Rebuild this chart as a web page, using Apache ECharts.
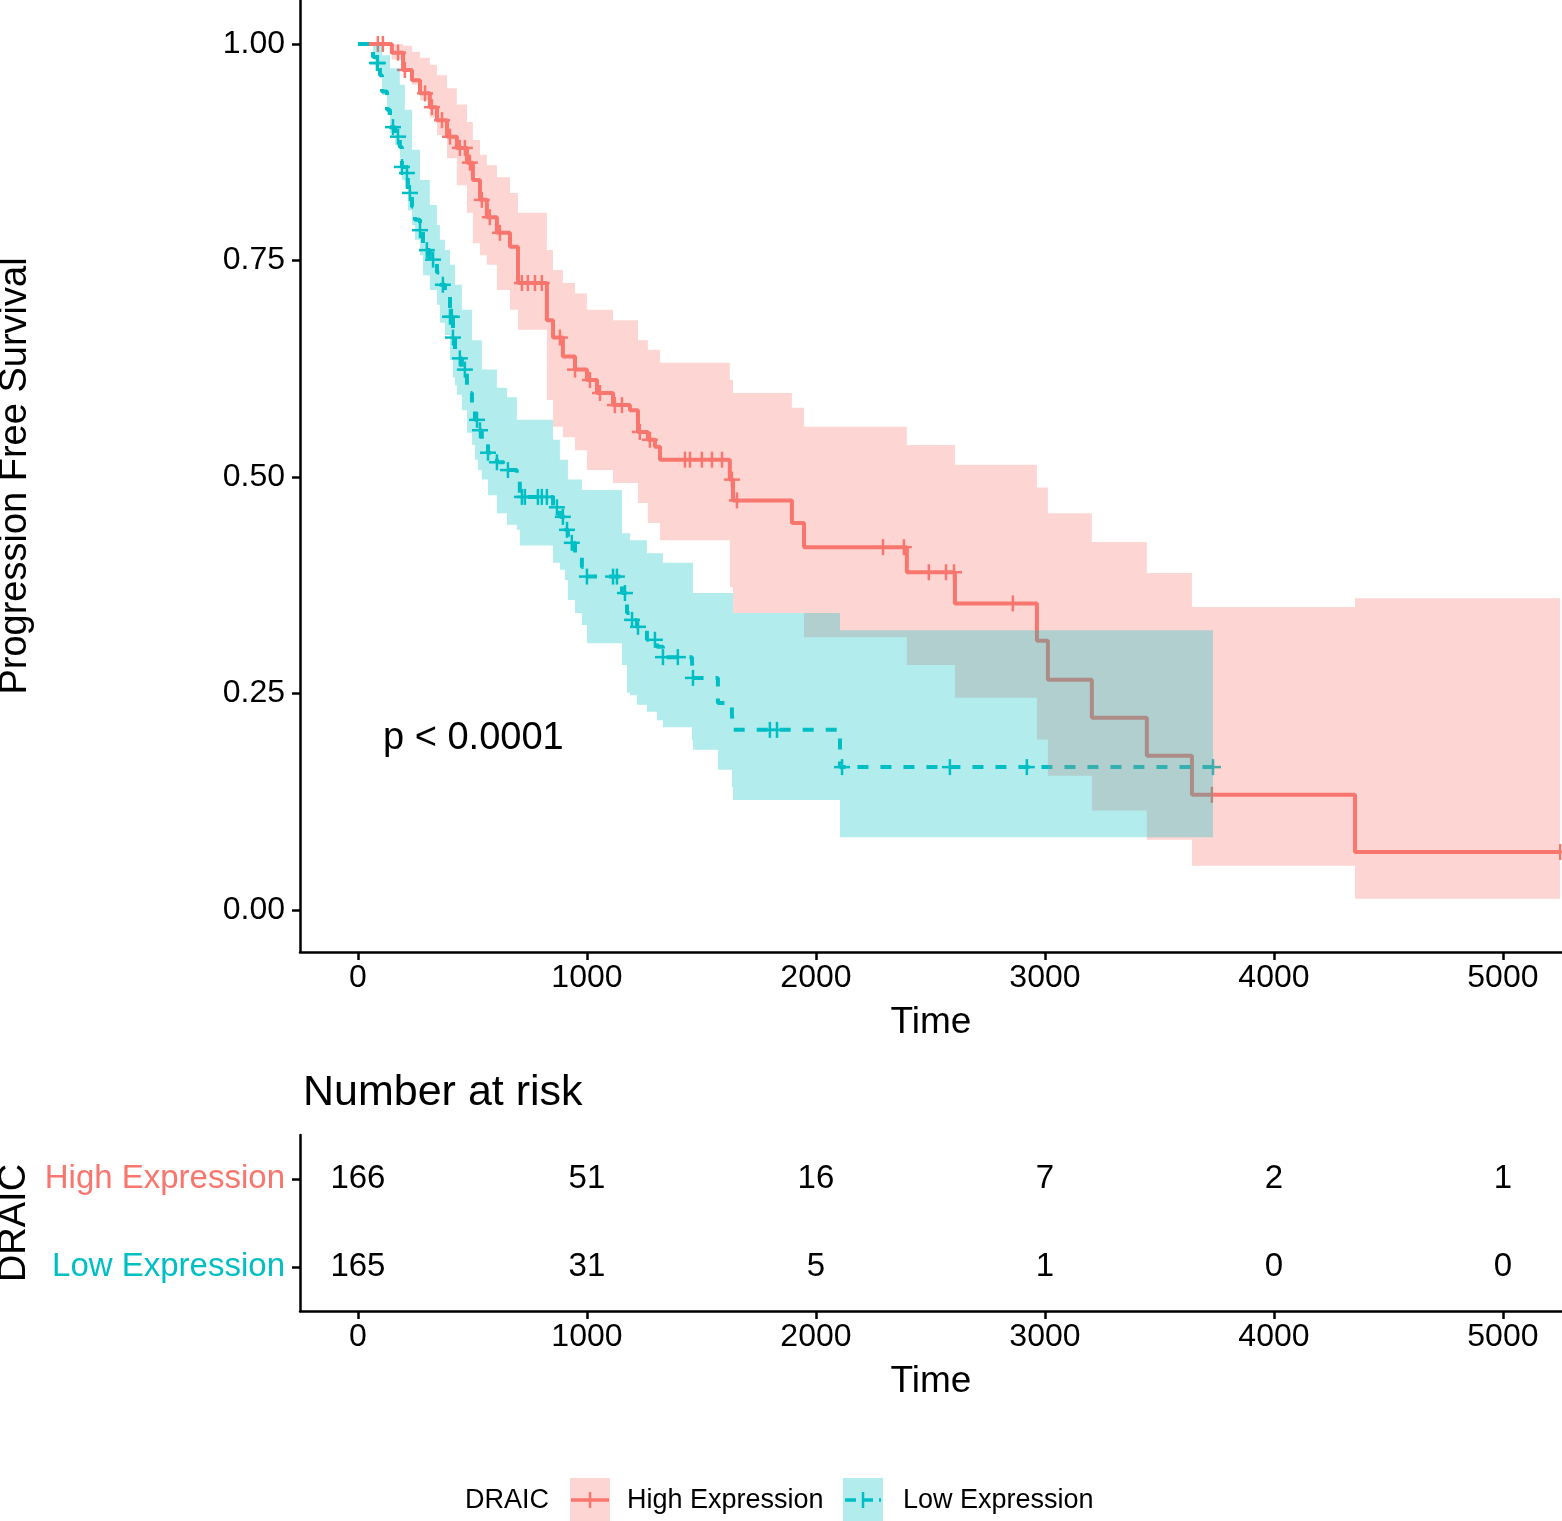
<!DOCTYPE html>
<html>
<head>
<meta charset="utf-8">
<script src="https://cdn.jsdelivr.net/npm/echarts@6/dist/echarts.min.js"></script>
<style>
  html, body { margin: 0; padding: 0; background: #fff; }
  #chart { width: 1562px; height: 1521px; }
</style>
</head>
<body>
<div id="chart"></div>
<script>
var RED = '#F8766D';
var TEAL = '#00BFC4';
var FONT = 'Liberation Sans, Arial, sans-serif';

// High Expression: event times, survival, 95% CI
var hiTime = [0,148,197,236,271,314,345,389,432,476,502,533,563,607,664,699,825,852,895,948,1000,1044,1114,1188,1223,1266,1297,1319,1624,1638,1895,1948,2397,2607,2965,3013,3205,3445,3642,4354,5250];
var hiSurv = [1.000,0.990,0.970,0.958,0.943,0.927,0.912,0.893,0.880,0.863,0.843,0.820,0.800,0.782,0.766,0.724,0.681,0.661,0.639,0.624,0.612,0.597,0.583,0.577,0.552,0.543,0.535,0.520,0.497,0.473,0.447,0.419,0.390,0.354,0.311,0.266,0.222,0.178,0.133,0.067,0.067];
var hiUpper = [1.000,1.000,0.998,0.991,0.984,0.976,0.964,0.949,0.930,0.910,0.889,0.872,0.860,0.846,0.828,0.805,0.762,0.739,0.724,0.712,0.693,0.693,0.681,0.681,0.658,0.647,0.647,0.632,0.612,0.597,0.580,0.558,0.537,0.514,0.488,0.458,0.425,0.389,0.350,0.360,0.360];
var hiLower = [1.000,0.982,0.968,0.953,0.935,0.915,0.895,0.868,0.837,0.805,0.770,0.756,0.745,0.716,0.693,0.670,0.589,0.558,0.546,0.531,0.508,0.508,0.493,0.493,0.470,0.447,0.447,0.427,0.373,0.343,0.343,0.315,0.283,0.245,0.197,0.155,0.115,0.081,0.051,0.013,0.013];
var hiCensor = [87,109,175,205,293,323,367,402,445,467,489,541,576,620,716,742,773,803,882,948,1013,1057,1122,1153,1231,1275,1428,1450,1502,1546,1590,1633,1655,2293,2384,2493,2568,2603,2860,3729,5250];

// Low Expression
var loTime = [0,66,83,96,105,127,140,162,183,192,205,218,236,249,271,284,314,345,358,380,402,415,424,432,454,476,498,511,524,541,568,607,651,694,707,852,882,904,917,948,978,1000,1153,1175,1188,1218,1262,1306,1332,1459,1463,1572,1633,1638,2105,3734];
var loSurv = [1.000,0.985,0.978,0.964,0.945,0.924,0.904,0.893,0.881,0.858,0.851,0.828,0.812,0.797,0.785,0.762,0.751,0.736,0.722,0.708,0.685,0.661,0.647,0.637,0.624,0.597,0.581,0.566,0.554,0.543,0.528,0.517,0.508,0.497,0.477,0.465,0.454,0.439,0.424,0.410,0.396,0.385,0.366,0.343,0.335,0.327,0.312,0.304,0.292,0.285,0.268,0.239,0.227,0.208,0.165,0.165];
var loUpper = [1.000,0.998,0.998,0.998,0.987,0.987,0.972,0.972,0.953,0.953,0.924,0.924,0.878,0.878,0.843,0.843,0.814,0.791,0.774,0.762,0.745,0.745,0.722,0.722,0.693,0.693,0.658,0.658,0.658,0.624,0.624,0.603,0.592,0.566,0.566,0.543,0.520,0.520,0.497,0.497,0.485,0.485,0.435,0.435,0.427,0.427,0.412,0.412,0.401,0.401,0.366,0.366,0.366,0.343,0.323,0.323];
var loLower = [1.000,0.982,0.975,0.961,0.941,0.918,0.897,0.883,0.868,0.843,0.834,0.808,0.791,0.774,0.756,0.733,0.716,0.699,0.678,0.664,0.635,0.615,0.606,0.595,0.577,0.551,0.537,0.520,0.508,0.497,0.479,0.458,0.445,0.439,0.421,0.401,0.393,0.381,0.358,0.343,0.329,0.308,0.283,0.251,0.248,0.237,0.229,0.219,0.211,0.196,0.185,0.162,0.142,0.127,0.084,0.084];
var loCensor = [83,87,153,175,192,214,227,271,301,328,371,402,410,415,445,467,520,533,568,607,655,716,729,786,803,825,869,895,913,934,1000,1114,1131,1166,1197,1223,1297,1332,1397,1463,1799,1830,2114,2585,2921,3734];

// number at risk table
var riskGroups = ['High Expression', 'Low Expression'];
var riskTimes = [0, 1000, 2000, 3000, 4000, 5000];
var riskHigh = [166, 51, 16, 7, 2, 1];
var riskLow = [165, 31, 5, 1, 0, 0];

var timeTicks = [0, 1000, 2000, 3000, 4000, 5000];
var survTicks = [0, 0.25, 0.5, 0.75, 1];

function pairs(xs, ys) {
	return xs.map(function (x, i) { return [x, ys[i]]; });
}
// survival value at a censoring time (last step at or before it)
function survAt(times, surv, t) {
	var s = surv[0];
	for (var i = 0; i < times.length; i++) {
		if (times[i] <= t) s = surv[i];
	}
	return s;
}
function censorData(times, surv, cens) {
	return cens.map(function (c) { return [c, survAt(times, surv, c)]; });
}
function crossRender(color) {
	return function (params, api) {
		var p = api.coord([api.value(0), api.value(1)]);
		var st = { stroke: color, lineWidth: 2.5 };
		return {
			type: 'group',
			children: [
				{ type: 'line', shape: { x1: p[0] - 8, y1: p[1], x2: p[0] + 8, y2: p[1] }, style: st },
				{ type: 'line', shape: { x1: p[0], y1: p[1] - 8, x2: p[0], y2: p[1] + 8 }, style: st }
			]
		};
	};
}
// one step-shaped polygon per confidence band, drawn on the first item
function bandRender(color, n) {
	return function (params, api) {
		if (params.dataIndexInside !== 0) return null;
		var top = [], bot = [];
		for (var i = 0; i < n - 1; i++) {
			var t0 = api.value(0, i), t1 = api.value(0, i + 1);
			var lo = api.value(1, i), up = api.value(2, i);
			top.push(api.coord([t0, up]), api.coord([t1, up]));
			bot.push(api.coord([t0, lo]), api.coord([t1, lo]));
		}
		return {
			type: 'polygon',
			shape: { points: top.concat(bot.reverse()) },
			style: { fill: color, opacity: 0.3 }
		};
	};
}
function bandData(times, lower, upper) {
	return times.map(function (t, i) { return [t, lower[i], upper[i]]; });
}
function timeAxis(gridIndex) {
	return {
		type: 'value', gridIndex: gridIndex, min: -253, max: 5258,
		axisLine: { show: true, onZero: false, lineStyle: { color: '#000', width: 2.5 } },
		axisTick: { show: true, length: 8, customValues: timeTicks, lineStyle: { color: '#000', width: 2.5 } },
		axisLabel: {
			customValues: timeTicks, fontSize: 32, color: '#000', margin: 10, fontFamily: FONT,
			formatter: function (v) { return String(v); }
		},
		splitLine: { show: false },
		name: 'Time', nameLocation: 'middle', nameGap: 52,
		nameTextStyle: { fontSize: 37, color: '#000', fontFamily: FONT }
	};
}

var riskData = [];
riskTimes.forEach(function (t, i) {
	riskData.push([t, riskGroups[0], riskHigh[i]]);
	riskData.push([t, riskGroups[1], riskLow[i]]);
});

var myChart = echarts.init(document.getElementById('chart'), null, { renderer: 'canvas' });

var option = {
	animation: false,
	backgroundColor: '#fff',
	textStyle: { fontFamily: FONT },
	grid: [
		{ left: 300, top: 0, width: 1262, height: 952, outerBoundsMode: 'none' },
		{ left: 300, top: 1135, width: 1262, height: 176, outerBoundsMode: 'none' }
	],
	xAxis: [timeAxis(0), timeAxis(1)],
	yAxis: [
		{
			type: 'value', gridIndex: 0, min: -0.0485, max: 1.0508,
			axisLine: { show: true, onZero: false, lineStyle: { color: '#000', width: 2.5 } },
			axisTick: { show: true, length: 8, customValues: survTicks, lineStyle: { color: '#000', width: 2.5 } },
			axisLabel: {
				customValues: survTicks, fontSize: 32, color: '#000', margin: 15, fontFamily: FONT,
				formatter: function (v) { return v.toFixed(2); }
			},
			splitLine: { show: false },
			name: 'Progression Free Survival', nameLocation: 'middle', nameRotate: 90, nameGap: 265,
			nameTextStyle: { fontSize: 38, color: '#000', fontFamily: FONT }
		},
		{
			type: 'category', gridIndex: 1, data: riskGroups, inverse: true,
			axisLine: { show: true, onZero: false, lineStyle: { color: '#000', width: 2.5 } },
			axisTick: { show: true, length: 8, alignWithLabel: true, lineStyle: { color: '#000', width: 2.5 } },
			axisLabel: {
				fontSize: 33, margin: 15, fontFamily: FONT,
				color: function (v) { return v === riskGroups[0] ? RED : TEAL; }
			},
			splitLine: { show: false },
			name: 'DRAIC', nameLocation: 'middle', nameRotate: 90, nameGap: 265,
			nameTextStyle: { fontSize: 38, color: '#000', fontFamily: FONT }
		}
	],
	series: [
		{
			name: 'High Expression', type: 'line', step: 'end', data: pairs(hiTime, hiSurv),
			showSymbol: false, silent: true, z: 2,
			lineStyle: { color: RED, width: 4 }
		},
		{
			name: 'Low Expression', type: 'line', step: 'end', data: pairs(loTime, loSurv),
			showSymbol: false, silent: true, z: 2,
			lineStyle: { color: TEAL, width: 4, type: [11, 12] }
		},
		{
			name: 'High censor', type: 'custom', data: censorData(hiTime, hiSurv, hiCensor),
			renderItem: crossRender(RED), silent: true, z: 2, clip: false
		},
		{
			name: 'Low censor', type: 'custom', data: censorData(loTime, loSurv, loCensor),
			renderItem: crossRender(TEAL), silent: true, z: 2, clip: false
		},
		{
			name: 'High CI', type: 'custom', data: bandData(hiTime, hiLower, hiUpper),
			renderItem: bandRender(RED, hiTime.length), silent: true, z: 3
		},
		{
			name: 'Low CI', type: 'custom', data: bandData(loTime, loLower, loUpper),
			renderItem: bandRender(TEAL, loTime.length), silent: true, z: 4
		},
		{
			name: 'Number at risk', type: 'custom', xAxisIndex: 1, yAxisIndex: 1,
			data: riskData, silent: true, encode: { x: 0, y: 1 },
			renderItem: function (params, api) {
				var p = api.coord([api.value(0), api.value(1)]);
				return {
					type: 'text', x: p[0], y: p[1],
					style: { text: String(api.value(2)), fontSize: 33, fill: '#000', align: 'center', verticalAlign: 'middle', fontFamily: FONT }
				};
			}
		}
	],
	graphic: [
		{ type: 'text', left: 383, top: 720, style: { text: 'p < 0.0001', fontSize: 38, fill: '#000', fontFamily: FONT } },
		{ type: 'text', left: 303, top: 1072, style: { text: 'Number at risk', fontSize: 43, fill: '#000', fontFamily: FONT } },
		// legend
		{ type: 'text', left: 465, top: 1487, style: { text: 'DRAIC', fontSize: 27, fill: '#000', fontFamily: FONT } },
		{ type: 'rect', shape: { x: 570, y: 1478, width: 40, height: 43 }, style: { fill: RED, opacity: 0.3 } },
		{ type: 'line', shape: { x1: 571, y1: 1500, x2: 609, y2: 1500 }, style: { stroke: RED, lineWidth: 3.5 } },
		{ type: 'line', shape: { x1: 590, y1: 1492, x2: 590, y2: 1508 }, style: { stroke: RED, lineWidth: 2.5 } },
		{ type: 'text', left: 627, top: 1487, style: { text: 'High Expression', fontSize: 27, fill: '#000', fontFamily: FONT } },
		{ type: 'rect', shape: { x: 843, y: 1478, width: 40, height: 43 }, style: { fill: TEAL, opacity: 0.3 } },
		{ type: 'line', shape: { x1: 845, y1: 1500, x2: 881, y2: 1500 }, style: { stroke: TEAL, lineWidth: 3.5, lineDash: [11, 6] } },
		{ type: 'line', shape: { x1: 863, y1: 1492, x2: 863, y2: 1508 }, style: { stroke: TEAL, lineWidth: 2.5 } },
		{ type: 'text', left: 903, top: 1487, style: { text: 'Low Expression', fontSize: 27, fill: '#000', fontFamily: FONT } }
	]
};

myChart.setOption(option);
</script>
</body>
</html>
